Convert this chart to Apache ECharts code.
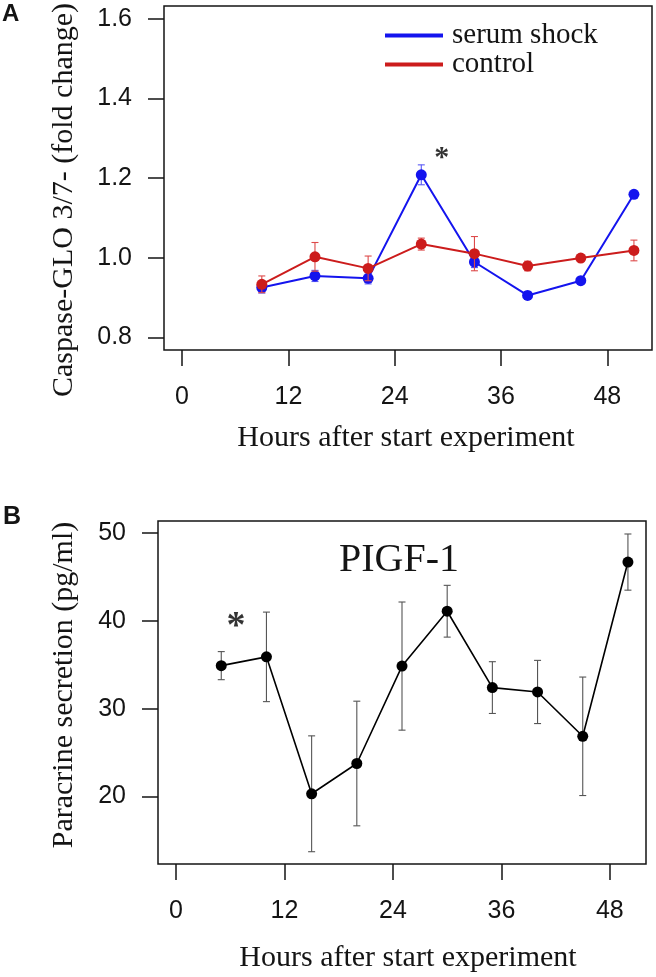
<!DOCTYPE html>
<html><head><meta charset="utf-8">
<script src="https://cdn.jsdelivr.net/npm/echarts@6/dist/echarts.min.js"></script>
<style>html,body{margin:0;padding:0;background:#fff}#c{width:656px;height:977px}</style>
</head><body><div id="c"></div>
<script>
// ---- Panel A data ----
const hoursA = [9, 15, 21, 27, 33, 39, 45, 51];
const serumShock = [0.925, 0.954, 0.948, 1.208, 0.989, 0.905, 0.942, 1.159];
const serumShockErr = [0.014, 0.014, 0.014, 0.025, 0.014, 0.010, 0.006, 0.006];
const control = [0.933, 1.002, 0.973, 1.034, 1.010, 0.979, 0.999, 1.018];
const controlErr = [0.021, 0.036, 0.031, 0.015, 0.043, 0.012, 0.007, 0.026];
// ---- Panel B data ----
const hoursB = [5, 10, 15, 20, 25, 30, 35, 40, 45, 50];
const pigf = [34.9, 35.9, 20.3, 23.75, 34.85, 41.1, 32.4, 31.9, 26.85, 46.7];
const pigfErr = [1.6, 5.1, 6.6, 7.1, 7.3, 2.95, 2.95, 3.6, 6.75, 3.2];
// ---- ticks ----
const xTicks = [0, 12, 24, 36, 48];
const yTicksA = [0.8, 1.0, 1.2, 1.4, 1.6];
const yTicksB = [20, 30, 40, 50];
// ---- significance marks ----
const starA = [[29.3, 1.259]];
const starB = [[6.63, 39.9]];

const BLUE = '#1414ee', RED = '#cc1c1c';
const BLUE_ERR = '#5a5af5', RED_ERR = '#dd4a4a', GRAY_ERR = '#555555';
const INK = '#141414';
const SERIF = '"Liberation Serif", "Times New Roman", serif';
const SANS = '"Liberation Sans", Arial, sans-serif';

function errSeries(xs, ys, es, color, gi, z) {
  return {
    type: 'custom', xAxisIndex: gi, yAxisIndex: gi, z: z, silent: true, animation: false,
    data: xs.map((x, i) => [x, ys[i] - es[i], ys[i] + es[i]]),
    renderItem: function (params, api) {
      const lo = api.coord([api.value(0), api.value(1)]);
      const hi = api.coord([api.value(0), api.value(2)]);
      const w = 3.5;
      const st = { stroke: color, lineWidth: 1.1 };
      return { type: 'group', children: [
        { type: 'line', shape: { x1: lo[0], y1: lo[1], x2: hi[0], y2: hi[1] }, style: st },
        { type: 'line', shape: { x1: lo[0] - w, y1: lo[1], x2: lo[0] + w, y2: lo[1] }, style: st },
        { type: 'line', shape: { x1: hi[0] - w, y1: hi[1], x2: hi[0] + w, y2: hi[1] }, style: st }
      ] };
    }
  };
}
function lineSeries(name, xs, ys, color, width, size, gi, z) {
  return {
    type: 'line', name: name, xAxisIndex: gi, yAxisIndex: gi, z: z, animation: false,
    data: xs.map((x, i) => [x, ys[i]]),
    symbol: 'circle', symbolSize: size, showSymbol: true,
    lineStyle: { color: color, width: width },
    itemStyle: { color: color }
  };
}
function starSeries(pts, size, gi) {
  return {
    type: 'scatter', xAxisIndex: gi, yAxisIndex: gi, z: 10, silent: true, animation: false,
    data: pts, symbolSize: 1, itemStyle: { color: 'rgba(0,0,0,0)' },
    label: { show: true, position: 'inside', formatter: '*', fontSize: size, fontWeight: 'bold', fontFamily: SERIF, color: '#000', offset: [0, size * 0.14] }
  };
}
function xAxisCfg(gi, min, max, margin) {
  return {
    gridIndex: gi, type: 'value', min: min, max: max, position: 'bottom',
    axisLine: { show: false, onZero: false }, splitLine: { show: false },
    axisTick: { show: true, inside: false, customValues: xTicks, length: 16, lineStyle: { color: INK, width: 1.5 } },
    axisLabel: { customValues: xTicks, margin: margin, fontSize: 25, fontFamily: SANS, color: INK }
  };
}
function yAxisCfg(gi, min, max, ticks, fmt) {
  return {
    gridIndex: gi, type: 'value', min: min, max: max, position: 'left',
    axisLine: { show: false, onZero: false }, splitLine: { show: false },
    axisTick: { show: true, inside: false, customValues: ticks, length: 16, lineStyle: { color: INK, width: 1.5 } },
    axisLabel: { customValues: ticks, margin: 32, fontSize: 25, fontFamily: SANS, color: INK, formatter: fmt }
  };
}
function txt(text, x, y, size, family, opts) {
  opts = opts || {};
  return {
    type: 'text', x: x, y: y, rotation: opts.rotation || 0, silent: true,
    style: {
      text: text, fontSize: size, fontFamily: family, fontWeight: opts.weight || 'normal', fill: INK,
      align: opts.align || 'center', verticalAlign: opts.valign || 'middle',
      textAlign: opts.align || 'center', textVerticalAlign: opts.valign || 'middle'
    }
  };
}

const chart = echarts.init(document.getElementById('c'), null, { renderer: 'canvas' });
chart.setOption({
  animation: false,
  backgroundColor: '#ffffff',
  grid: [
    { left: 164, top: 6, width: 488, height: 344, show: true, borderColor: INK, borderWidth: 1.5, backgroundColor: 'transparent' },
    { left: 158, top: 521, width: 488, height: 343, show: true, borderColor: INK, borderWidth: 1.5, backgroundColor: 'transparent' }
  ],
  xAxis: [xAxisCfg(0, -2.04, 53.04, 35), xAxisCfg(1, -2, 52, 35)],
  yAxis: [
    yAxisCfg(0, 0.768, 1.632, yTicksA, v => v.toFixed(1)),
    yAxisCfg(1, 12.3, 51.38, yTicksB, v => String(v))
  ],
  legend: {
    data: [
      { name: 'serum shock', icon: 'rect', itemStyle: { color: BLUE } },
      { name: 'control', icon: 'rect', itemStyle: { color: RED } }
    ],
    orient: 'vertical', left: 380, top: 16, itemWidth: 58, itemHeight: 4, itemGap: 0,
    selectedMode: false,
    textStyle: { fontFamily: SERIF, fontSize: 29, color: INK, lineHeight: 27, padding: [0, 0, 0, 4] }
  },
  graphic: [
    txt('A', 2, 2, 24, SANS, { weight: 'bold', align: 'left', valign: 'top' }),
    txt('B', 3, 505, 25, SANS, { weight: 'bold', align: 'left', valign: 'top' }),
    txt('Caspase-GLO 3/7- (fold change)', 64, 200, 30, SERIF, { rotation: Math.PI / 2 }),
    txt('Hours after start experiment', 406, 438, 30, SERIF),
    txt('Paracrine secretion (pg/ml)', 64, 685, 30, SERIF, { rotation: Math.PI / 2 }),
    txt('Hours after start experiment', 408, 958, 30, SERIF),
    txt('PIGF-1', 399, 560, 40, SERIF)
  ],
  series: [
    errSeries(hoursA, serumShock, serumShockErr, BLUE_ERR, 0, 2),
    lineSeries('serum shock', hoursA, serumShock, BLUE, 2, 11, 0, 3),
    errSeries(hoursA, control, controlErr, RED_ERR, 0, 4),
    lineSeries('control', hoursA, control, RED, 2, 11, 0, 5),
    starSeries(starA, 30, 0),
    errSeries(hoursB, pigf, pigfErr, GRAY_ERR, 1, 2),
    lineSeries('PIGF-1', hoursB, pigf, '#000000', 1.6, 11, 1, 3),
    starSeries(starB, 38, 1)
  ]
});
</script></body></html>
